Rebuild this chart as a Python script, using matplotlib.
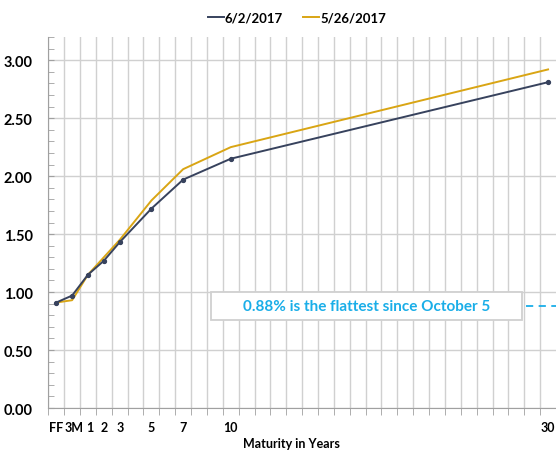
import matplotlib.pyplot as plt
from matplotlib.ticker import MultipleLocator, FixedLocator
from matplotlib.patches import Rectangle
from matplotlib.lines import Line2D

plt.rcParams['font.family'] = ['Lato', 'DejaVu Sans']

# maturities (FF = fed funds, 3M = 3 month), x positions in years
maturity_pos = [-1, 0, 1, 2, 3, 5, 7, 10, 30]
maturity_labels = ['FF', '3M', '1', '2', '3', '5', '7', '10', '30']

yield_jun2 = [0.91, 0.97, 1.15, 1.27, 1.43, 1.72, 1.97, 2.15, 2.81]
yield_may26 = [0.91, 0.93, 1.15, 1.30, 1.45, 1.79, 2.06, 2.25, 2.92]

flat_level = 0.88
note = '0.88% is the flattest since October 5'

navy = '#37425d'
gold = '#d9a514'
blue = '#1aaee8'

fig = plt.figure(figsize=(5.56, 4.52), dpi=100)
ax = fig.add_axes([0.0863, 0.095, 0.9137, 0.821])

ax.plot(maturity_pos, yield_jun2, color=navy, lw=1.4, marker='o', ms=2.8, zorder=3)
ax.plot(maturity_pos, yield_may26, color=gold, lw=1.4, zorder=2)

ax.set_xlim(-1.52, 30.5)
ax.set_ylim(0, 3.2)

# x: labels at maturities (FF/3M/1 nudged apart), tick marks + grid between them
label_pos = [p + d for p, d in zip(maturity_pos, [0.0, 0.12, 0.12, 0, 0, 0, 0, 0, 0])]
ax.xaxis.set_major_locator(FixedLocator(label_pos))
ax.set_xticklabels(maturity_labels)
ax.xaxis.set_minor_locator(FixedLocator([i - 0.5 for i in range(-1, 31)]))
ax.tick_params(axis='x', which='major', length=0, pad=9)
ax.tick_params(axis='x', which='minor', length=5, direction='out', color='#a0a0a0')
ax.grid(True, axis='x', which='minor', color='#d0d0d0', lw=1)

# y
ax.yaxis.set_major_locator(MultipleLocator(0.5))
ax.yaxis.set_minor_locator(MultipleLocator(0.1))
ax.yaxis.set_major_formatter(lambda v, p: f'{v:.2f}')
ax.tick_params(axis='y', which='both', direction='in', length=4, color='#a0a0a0', pad=11)
ax.grid(True, axis='y', which='major', color='#d0d0d0', lw=1)

for lbl in ax.get_xticklabels():
    lbl.set_fontweight('bold')
    lbl.set_fontsize(9)
for lbl in ax.get_yticklabels():
    lbl.set_fontweight('bold')
    lbl.set_fontsize(10.5)

for s in ['top', 'right']:
    ax.spines[s].set_visible(False)
for s in ['left', 'bottom']:
    ax.spines[s].set_color('#a0a0a0')

ax.set_xlabel('Maturity in Years', fontsize=9, fontweight='bold')
ax.xaxis.set_label_coords(0.48, -0.079)

# annotation box and reference dash
ax.add_patch(Rectangle((8.76, 0.76), 19.58, 0.24, fc='white', ec='#d0d0d0',
                       lw=1.3, zorder=4))
ax.text(18.55, flat_level, note, ha='center', va='center', color=blue,
        fontsize=11, fontweight='bold', zorder=5)
ax.plot([28.6, 30.5], [flat_level, flat_level], color=blue, lw=1.3,
        ls=(0, (4, 3)), zorder=5, clip_on=False)

handles = [Line2D([], [], color=navy, lw=1.4), Line2D([], [], color=gold, lw=1.4)]
ax.legend(handles, ['6/2/2017', '5/26/2017'], loc='upper center',
          bbox_to_anchor=(0.49, 1.1), ncol=2, frameon=False,
          handlelength=1.2, handletextpad=0.1, columnspacing=1.5,
          prop={'weight': 'bold', 'size': 9.5})

fig.savefig('out.png', dpi=100)
